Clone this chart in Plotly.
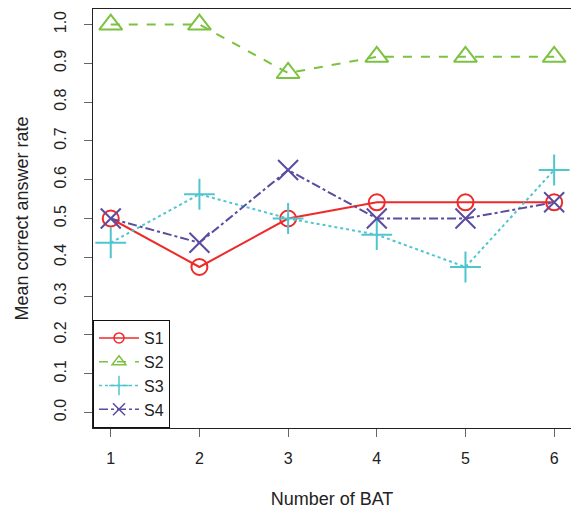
import plotly.graph_objects as go

x_bat = [1, 2, 3, 4, 5, 6]
s1 = [0.5, 0.375, 0.5, 0.5417, 0.5417, 0.5417]
s2 = [1.0, 1.0, 0.875, 0.9167, 0.9167, 0.9167]
s3 = [0.4375, 0.5625, 0.5, 0.4583, 0.375, 0.625]
s4 = [0.5, 0.4375, 0.625, 0.5, 0.5, 0.5417]
names = ["S1", "S2", "S3", "S4"]
y_ticks = [0.0, 0.1, 0.2, 0.3, 0.4, 0.5, 0.6, 0.7, 0.8, 0.9, 1.0]

colors = ["#EE2A2A", "#7CC242", "#4FC6CE", "#5A4DA0"]
dashes = ["solid", "dash", "dot", "dashdot"]
symbols = ["circle-open", "triangle-up-open", "cross-thin-open", "x-thin-open"]
sizes = [16, 20, 22, 20]
leg_sizes = [10, 12, 14, 12]

fig = go.Figure()
for name, ys, c, d, s, sz, lsz in zip(names, [s1, s2, s3, s4], colors, dashes, symbols, sizes, leg_sizes):
    fig.add_trace(go.Scatter(
        x=x_bat, y=ys, mode="lines+markers", showlegend=False,
        line=dict(color=c, width=2, dash=d),
        marker=dict(symbol=s, size=sz, color=c, line=dict(color=c, width=2)),
    ))
    fig.add_trace(go.Scatter(
        x=[None], y=[None], mode="lines+markers", name=name,
        line=dict(color=c, width=1.5, dash=d),
        marker=dict(symbol=s, size=lsz, color=c, line=dict(color=c, width=1.5)),
    ))

fig.update_layout(
    width=571, height=511,
    margin=dict(l=93, r=0, t=9, b=83),
    paper_bgcolor="white", plot_bgcolor="white",
    font=dict(family="Liberation Sans, Arial, sans-serif", size=15, color="#222"),
    showlegend=True,
    legend=dict(x=0, y=0, xanchor="left", yanchor="bottom",
                bgcolor="white", bordercolor="#111", borderwidth=1,
                font=dict(size=16), itemwidth=40, tracegroupgap=0),
    xaxis=dict(range=[0.8, 6.19], tickmode="array", tickvals=x_bat,
               ticktext=[str(v) for v in x_bat], tickfont=dict(size=16),
               ticklabelstandoff=8,
               showgrid=False, zeroline=False, showline=True, linecolor="#222",
               linewidth=1, mirror=True, ticks="outside", ticklen=8,
               tickcolor="#666", title=dict(text="Number of BAT", standoff=26)),
    yaxis=dict(range=[-0.04, 1.04], tickmode="array", tickvals=y_ticks,
               ticktext=["%.1f" % v for v in y_ticks], tickangle=-90,
               tickfont=dict(size=16), ticklabelstandoff=12,
               showgrid=False, zeroline=False, showline=True, linecolor="#222",
               linewidth=1, mirror=True, ticks="outside", ticklen=8,
               tickcolor="#666", title=dict(text="Mean correct answer rate", standoff=18)),
)

fig.write_html("out.html")
